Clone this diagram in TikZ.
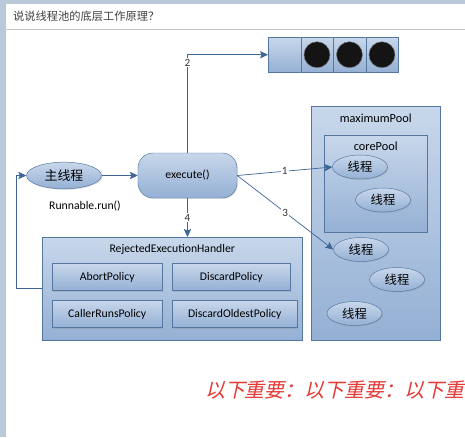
\documentclass[tikz,border=0pt]{standalone}
\usepackage{fontspec}
\setmainfont{Carlito}
\newfontfamily\zh{Noto Sans CJK SC}
\newfontfamily\zhslant{Noto Sans CJK SC}[FakeSlant=0.22]
\usetikzlibrary{arrows.meta,calc,positioning,shadows,shapes.geometric}
\definecolor{boxtop}{HTML}{C8D7EB}
\definecolor{boxbot}{HTML}{94B0D4}
\definecolor{boxline}{HTML}{55779F}
\definecolor{flow}{HTML}{3D6597}
\definecolor{band}{HTML}{B9C9D9}
\definecolor{notered}{HTML}{E53935}

\begin{document}
\begin{tikzpicture}[
    x=0.03cm, y=-0.03cm,
    font=\fontsize{10}{12}\selectfont,
    blue box/.style={draw=boxline, top color=boxtop, bottom color=boxbot, drop shadow={opacity=0.25, shadow xshift=0.8pt, shadow yshift=-0.8pt}},
    pool/.style={blue box, anchor=north west, inner sep=0pt},
    policy/.style={blue box, anchor=north west, minimum height=0.82cm},
    worker/.style={blue box, ellipse, minimum width=1.65cm, minimum height=0.72cm, inner sep=0pt, font=\zh\fontsize{10.5}{12}\selectfont},
    cell/.style={draw=boxline, top color=boxtop, bottom color=boxbot, anchor=north west, minimum width=0.975cm, minimum height=1.05cm, inner sep=0pt},
    ball/.style={circle, fill=black!92, draw=black!55, minimum size=0.78cm, inner sep=0pt},
    num/.style={fill=white, inner sep=1pt, text=black!80, font=\fontsize{9.5}{11}\selectfont},
    sig/.style={draw=flow, semithick, -{Stealth[length=2.4mm, width=2.2mm, inset=0.5mm]}}
]
    \useasboundingbox (0,0) rectangle (465,437);
    \clip (0,0) rectangle (465,437);
    % window frame
    \fill[white] (0,0) rectangle (465,437);
    \fill[band] (0,0) rectangle (6,437);
    \fill[band] (0,0) rectangle (465,4);
    \draw[black!22] (6,29) -- (465,29);
    \node[anchor=west, text=black!75, font=\zh\fontsize{9.6}{11}\selectfont] (title) at (9,16) {说说线程池的底层工作原理？};

    % caller side
    \node[blue box, ellipse, minimum width=2.25cm, minimum height=0.8cm, inner sep=0pt, font=\zh\fontsize{11}{12}\selectfont] (main) at (64,175.5) {主线程};
    \node (run) at (85,206) {Runnable.run()};
    \node[blue box, rounded corners=0.45cm, minimum width=2.97cm, minimum height=1.35cm] (execute) at (187.5,175.5) {execute()};

    % work queue
    \foreach \i in {0,...,3}
        \node[cell] (q\i) at ({268+32.5*\i},37) {};
    \foreach \i in {1,...,3}
        \node[ball] (dot\i) at (q\i) {};

    % thread pools
    \node[pool, minimum width=3.87cm, minimum height=7.02cm] (maxpool) at (311,106) {};
    \node[below=0.1cm of maxpool.north, font=\fontsize{10.5}{12}\selectfont] (maxlabel) {maximumPool};
    \node[pool, minimum width=3.09cm, minimum height=2.91cm] (corepool) at (324,135) {};
    \node[below=0.08cm of corepool.north, font=\fontsize{10.5}{12}\selectfont] (corelabel) {corePool};
    \node[worker] (w1) at (360,167) {线程};
    \node[worker] (w2) at (383,200) {线程};
    \node[worker] (w3) at (361,249.5) {线程};
    \node[worker] (w4) at (397,279.5) {线程};
    \node[worker] (w5) at (354.5,313.5) {线程};

    % rejection handler
    \node[pool, minimum width=7.8cm, minimum height=3.09cm] (handler) at (42,237) {};
    \node[below=0.1cm of handler.north] (handlerlabel) {RejectedExecutionHandler};
    \node[policy, minimum width=3.3cm] (abort) at (52,263) {AbortPolicy};
    \node[policy, minimum width=3.54cm] (discard) at (172,263) {DiscardPolicy};
    \node[policy, minimum width=3.3cm] (callerruns) at (52,300) {CallerRunsPolicy};
    \node[policy, minimum width=3.75cm] (oldest) at (172,300) {DiscardOldestPolicy};

    % flow
    \draw[sig] (main) -- (execute);
    \draw[sig] (execute.north) |- node[num, pos=0.46] {2} (q0.west);
    \draw[sig] (execute.east) -- node[num] {1} (w1.west);
    \draw[sig] (execute.east) -- node[num] {3} (w3.west);
    \draw[sig] (execute.south) -- node[num] {4} (execute.south |- handler.north);
    \draw[sig] (handler.west) -- ++(-26,0) |- (main.west);

    % note
    \node[anchor=west, text=notered, font=\zhslant\fontsize{17}{19}\selectfont] (note) at (201,390) {以下重要：以下重要：以下重要：};
\end{tikzpicture}
\end{document}
